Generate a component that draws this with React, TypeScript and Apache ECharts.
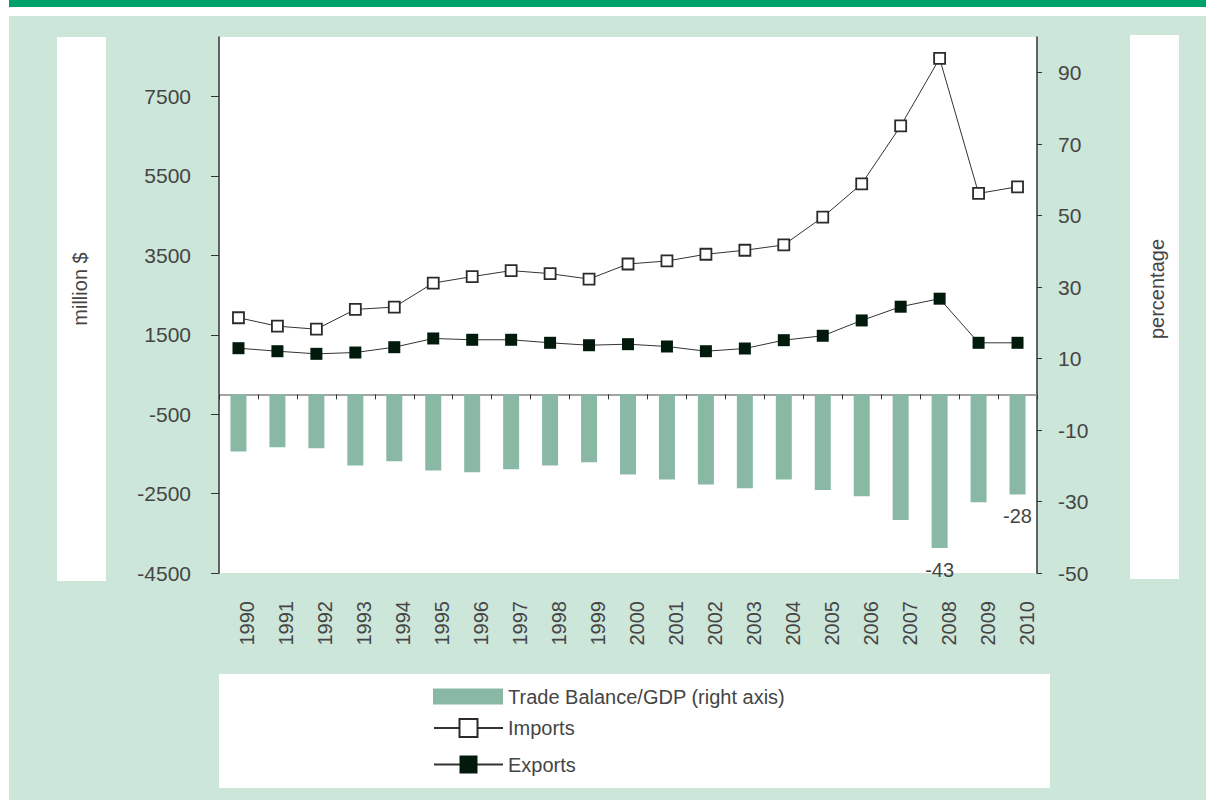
import React, { useEffect, useRef } from 'react';
import * as echarts from 'echarts';

const years = ['1990', '1991', '1992', '1993', '1994', '1995', '1996', '1997', '1998', '1999', '2000', '2001', '2002', '2003', '2004', '2005', '2006', '2007', '2008', '2009', '2010'];
const importsValues = [1929, 1717, 1641, 2139, 2197, 2803, 2965, 3116, 3040, 2904, 3283, 3359, 3528, 3629, 3763, 4462, 5303, 6760, 8460, 5061, 5227];
const exportsValues = [1162, 1086, 1020, 1053, 1187, 1407, 1374, 1374, 1298, 1237, 1263, 1205, 1086, 1154, 1364, 1475, 1861, 2207, 2409, 1298, 1298];
const tradeBalanceGdp = [-16.0, -14.8, -15.1, -19.9, -18.7, -21.3, -21.8, -21.0, -19.9, -19.0, -22.4, -23.8, -25.2, -26.3, -23.8, -26.8, -28.5, -35.2, -43, -30.2, -28];
const labelledYears = ['2008', '2010'];
const leftTicks = [-4500, -2500, -500, 1500, 3500, 5500, 7500];
const rightTicks = [-50, -30, -10, 10, 30, 50, 70, 90];

const FONT = 'Liberation Sans, Arial, sans-serif';
const TEXT = '#454545';
const PANEL = '#cde6da';
const BAR = '#89b9a4';

export default function App() {
  const ref = useRef<HTMLDivElement>(null);
  useEffect(() => {
    if (!ref.current) return;
    const chart = echarts.init(ref.current, undefined, { renderer: 'svg' });
    const barData = tradeBalanceGdp.map((v, i) =>
      labelledYears.includes(years[i]) ? { value: v, label: { show: true } } : v
    );
    chart.setOption({
      animation: false,
      backgroundColor: '#ffffff',
      textStyle: { fontFamily: FONT },
      graphic: [
        { type: 'rect', z: -20, shape: { x: 9, y: 0, width: 1197, height: 7 }, style: { fill: '#00a26b' } },
        { type: 'rect', z: -20, shape: { x: 9, y: 16, width: 1197, height: 784 }, style: { fill: PANEL } },
        { type: 'rect', z: -10, shape: { x: 57, y: 37, width: 49, height: 544 }, style: { fill: '#ffffff' } },
        { type: 'rect', z: -10, shape: { x: 1130, y: 35, width: 49, height: 544 }, style: { fill: '#ffffff' } },
        { type: 'rect', z: -10, shape: { x: 219, y: 674, width: 831, height: 114 }, style: { fill: '#ffffff' } },
        {
          type: 'text', z: 5, x: 80, y: 289, rotation: Math.PI / 2,
          style: { text: 'million $', align: 'center', verticalAlign: 'middle', fontSize: 20, fontFamily: FONT, fill: TEXT },
        },
        {
          type: 'text', z: 5, x: 1157, y: 289, rotation: Math.PI / 2,
          style: { text: 'percentage', align: 'center', verticalAlign: 'middle', fontSize: 20, fontFamily: FONT, fill: TEXT },
        },
      ],
      grid: {
        left: 219, right: 169, top: 37, bottom: 227,
        show: true, backgroundColor: '#ffffff', borderWidth: 0,
      },
      legend: [
        {
          data: [{ name: 'Trade Balance/GDP (right axis)', icon: 'rect' }],
          left: 433, top: 686.5, padding: 0, itemWidth: 70, itemHeight: 16, selectedMode: false,
          textStyle: { fontSize: 20, color: TEXT, fontFamily: FONT },
        },
        {
          data: ['Imports'],
          left: 433, top: 718, padding: 0, itemWidth: 69, itemHeight: 22.5, selectedMode: false,
          textStyle: { fontSize: 20, color: TEXT, fontFamily: FONT },
        },
        {
          data: ['Exports'],
          left: 433, top: 754.5, padding: 0, itemWidth: 69, itemHeight: 22.5, selectedMode: false,
          textStyle: { fontSize: 20, color: TEXT, fontFamily: FONT },
        },
      ],
      xAxis: [
        {
          type: 'category', data: years, position: 'bottom',
          axisLine: { show: true, onZero: true, lineStyle: { color: '#858585', width: 1.6 } },
          axisTick: { show: true, length: 5, lineStyle: { color: '#333333' } },
          axisLabel: { show: false },
          splitLine: { show: false },
        },
        {
          type: 'category', data: years, position: 'bottom',
          axisLine: { show: false, onZero: false },
          axisTick: { show: false },
          axisLabel: {
            show: true, rotate: 90, margin: 28, fontSize: 20, color: TEXT, fontFamily: FONT,
            lineHeight: 18,
            formatter: (v: string) => '\n' + v,
          },
          splitLine: { show: false },
        },
      ],
      yAxis: [
        {
          type: 'value', position: 'left', min: -4500, max: 9000,
          axisLine: { show: true, onZero: false, lineStyle: { color: '#333333', width: 1.5 } },
          axisTick: { show: true, length: 8, customValues: leftTicks, lineStyle: { color: '#333333' } },
          axisLabel: {
            show: true, customValues: leftTicks, margin: 28, fontSize: 21, color: TEXT, fontFamily: FONT,
            formatter: (v: number) => String(v),
          },
          splitLine: { show: false },
        },
        {
          type: 'value', position: 'right', min: -50, max: 100,
          axisLine: { show: true, onZero: false, lineStyle: { color: '#333333', width: 1.5 } },
          axisTick: { show: true, length: 5, customValues: rightTicks, lineStyle: { color: '#333333' } },
          axisLabel: {
            show: true, customValues: rightTicks, margin: 21, fontSize: 21, color: TEXT, fontFamily: FONT,
            formatter: (v: number) => String(v),
          },
          splitLine: { show: false },
        },
      ],
      series: [
        {
          name: 'Trade Balance/GDP (right axis)', type: 'bar', xAxisIndex: 0, yAxisIndex: 1,
          data: barData, barWidth: 16, itemStyle: { color: BAR },
          label: {
            show: false, position: 'bottom', distance: 12, fontSize: 20, color: TEXT, fontFamily: FONT,
            formatter: (p: any) => String(Math.round(p.value)),
          },
        },
        {
          name: 'Imports', type: 'line', xAxisIndex: 0, yAxisIndex: 0, data: importsValues,
          symbol: 'rect', symbolSize: 11,
          itemStyle: { color: '#ffffff', borderColor: '#2b2b2b', borderWidth: 1.8 },
          lineStyle: { color: '#333333', width: 1 },
          z: 3,
        },
        {
          name: 'Exports', type: 'line', xAxisIndex: 0, yAxisIndex: 0, data: exportsValues,
          symbol: 'rect', symbolSize: 12,
          itemStyle: { color: '#021a0c', borderColor: '#021a0c', borderWidth: 0 },
          lineStyle: { color: '#333333', width: 1 },
          z: 3,
        },
      ],
    });
    return () => chart.dispose();
  }, []);
  return <div ref={ref} style={{ position: 'absolute', left: 0, top: 0, width: 1206, height: 800 }} />;
}
